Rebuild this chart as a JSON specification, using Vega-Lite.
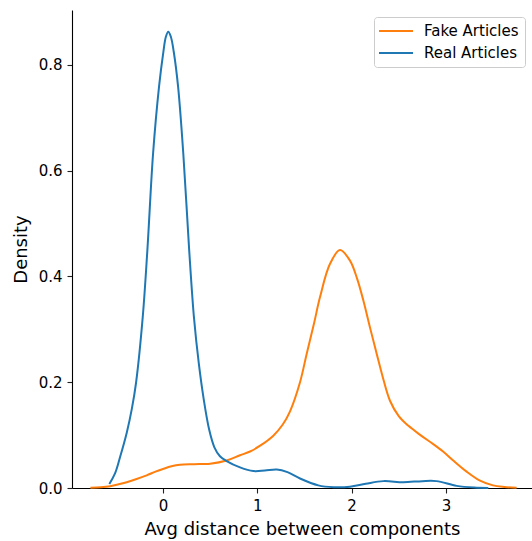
{
  "$schema": "https://vega.github.io/schema/vega-lite/v6.json",
  "width": 460,
  "height": 478,
  "autosize": "none",
  "padding": {"left": 72, "top": 10, "right": 0, "bottom": 53},
  "background": "white",
  "config": {
    "font": "DejaVu Sans",
    "view": {"stroke": null},
    "axis": {
      "grid": false,
      "domainColor": "black",
      "domainWidth": 1.1,
      "tickColor": "#222222",
      "tickWidth": 1.1,
      "tickSize": 5,
      "labelPadding": 5,
      "labelFontSize": 15,
      "labelColor": "black",
      "titleFontSize": 18,
      "titleFontWeight": "normal",
      "titleColor": "black"
    }
  },
  "data": {
    "values": [
      {"series": "Fake Articles", "x": -0.77, "y": 0.0005},
      {"series": "Fake Articles", "x": -0.66, "y": 0.0015},
      {"series": "Fake Articles", "x": -0.56, "y": 0.0035},
      {"series": "Fake Articles", "x": -0.47, "y": 0.007},
      {"series": "Fake Articles", "x": -0.385, "y": 0.011},
      {"series": "Fake Articles", "x": -0.28, "y": 0.017},
      {"series": "Fake Articles", "x": -0.173, "y": 0.024},
      {"series": "Fake Articles", "x": -0.08, "y": 0.031},
      {"series": "Fake Articles", "x": 0.0, "y": 0.036},
      {"series": "Fake Articles", "x": 0.09, "y": 0.041},
      {"series": "Fake Articles", "x": 0.18, "y": 0.044},
      {"series": "Fake Articles", "x": 0.33, "y": 0.045},
      {"series": "Fake Articles", "x": 0.5, "y": 0.046},
      {"series": "Fake Articles", "x": 0.675, "y": 0.052},
      {"series": "Fake Articles", "x": 0.817, "y": 0.062},
      {"series": "Fake Articles", "x": 0.923, "y": 0.069},
      {"series": "Fake Articles", "x": 1.03, "y": 0.08},
      {"series": "Fake Articles", "x": 1.17, "y": 0.099},
      {"series": "Fake Articles", "x": 1.27, "y": 0.12},
      {"series": "Fake Articles", "x": 1.347, "y": 0.145},
      {"series": "Fake Articles", "x": 1.453, "y": 0.2},
      {"series": "Fake Articles", "x": 1.524, "y": 0.254},
      {"series": "Fake Articles", "x": 1.6, "y": 0.31},
      {"series": "Fake Articles", "x": 1.665, "y": 0.361},
      {"series": "Fake Articles", "x": 1.771, "y": 0.424},
      {"series": "Fake Articles", "x": 1.877, "y": 0.45},
      {"series": "Fake Articles", "x": 1.983, "y": 0.43},
      {"series": "Fake Articles", "x": 2.06, "y": 0.395},
      {"series": "Fake Articles", "x": 2.124, "y": 0.355},
      {"series": "Fake Articles", "x": 2.2, "y": 0.3},
      {"series": "Fake Articles", "x": 2.266, "y": 0.254},
      {"series": "Fake Articles", "x": 2.33, "y": 0.21},
      {"series": "Fake Articles", "x": 2.407, "y": 0.165},
      {"series": "Fake Articles", "x": 2.5, "y": 0.136},
      {"series": "Fake Articles", "x": 2.6, "y": 0.118},
      {"series": "Fake Articles", "x": 2.73, "y": 0.1},
      {"series": "Fake Articles", "x": 2.866, "y": 0.083},
      {"series": "Fake Articles", "x": 2.97, "y": 0.069},
      {"series": "Fake Articles", "x": 3.078, "y": 0.052},
      {"series": "Fake Articles", "x": 3.22, "y": 0.031},
      {"series": "Fake Articles", "x": 3.362, "y": 0.014},
      {"series": "Fake Articles", "x": 3.5, "y": 0.005},
      {"series": "Fake Articles", "x": 3.62, "y": 0.002},
      {"series": "Fake Articles", "x": 3.75, "y": 0.0005},
      {"series": "Real Articles", "x": -0.569, "y": 0.0076},
      {"series": "Real Articles", "x": -0.51, "y": 0.027},
      {"series": "Real Articles", "x": -0.456, "y": 0.058},
      {"series": "Real Articles", "x": -0.385, "y": 0.104},
      {"series": "Real Articles", "x": -0.33, "y": 0.15},
      {"series": "Real Articles", "x": -0.285, "y": 0.2},
      {"series": "Real Articles", "x": -0.215, "y": 0.323},
      {"series": "Real Articles", "x": -0.166, "y": 0.449},
      {"series": "Real Articles", "x": -0.105, "y": 0.633},
      {"series": "Real Articles", "x": -0.042, "y": 0.759},
      {"series": "Real Articles", "x": 0.004, "y": 0.825},
      {"series": "Real Articles", "x": 0.03, "y": 0.853},
      {"series": "Real Articles", "x": 0.056, "y": 0.863},
      {"series": "Real Articles", "x": 0.084, "y": 0.853},
      {"series": "Real Articles", "x": 0.114, "y": 0.825},
      {"series": "Real Articles", "x": 0.16, "y": 0.759},
      {"series": "Real Articles", "x": 0.215, "y": 0.633},
      {"series": "Real Articles", "x": 0.278, "y": 0.449},
      {"series": "Real Articles", "x": 0.328, "y": 0.323},
      {"series": "Real Articles", "x": 0.38, "y": 0.235},
      {"series": "Real Articles", "x": 0.43, "y": 0.17},
      {"series": "Real Articles", "x": 0.49, "y": 0.11},
      {"series": "Real Articles", "x": 0.545, "y": 0.077},
      {"series": "Real Articles", "x": 0.604, "y": 0.06},
      {"series": "Real Articles", "x": 0.675, "y": 0.051},
      {"series": "Real Articles", "x": 0.817, "y": 0.039},
      {"series": "Real Articles", "x": 0.958, "y": 0.032},
      {"series": "Real Articles", "x": 1.08, "y": 0.033},
      {"series": "Real Articles", "x": 1.206, "y": 0.035},
      {"series": "Real Articles", "x": 1.32, "y": 0.03},
      {"series": "Real Articles", "x": 1.453, "y": 0.018},
      {"series": "Real Articles", "x": 1.647, "y": 0.005},
      {"series": "Real Articles", "x": 1.81, "y": 0.0015},
      {"series": "Real Articles", "x": 1.983, "y": 0.0025},
      {"series": "Real Articles", "x": 2.15, "y": 0.008},
      {"series": "Real Articles", "x": 2.336, "y": 0.013},
      {"series": "Real Articles", "x": 2.548, "y": 0.011},
      {"series": "Real Articles", "x": 2.75, "y": 0.013},
      {"series": "Real Articles", "x": 2.9, "y": 0.013},
      {"series": "Real Articles", "x": 3.114, "y": 0.004},
      {"series": "Real Articles", "x": 3.3, "y": 0.0008},
      {"series": "Real Articles", "x": 3.45, "y": 0.0002}
    ]
  },
  "mark": {"type": "line", "strokeWidth": 2, "interpolate": "catmull-rom"},
  "encoding": {
    "x": {
      "field": "x",
      "type": "quantitative",
      "title": "Avg distance between components",
      "scale": {"domain": [-0.965, 3.913], "nice": false, "zero": false},
      "axis": {"values": [0, 1, 2, 3], "format": "d", "titlePadding": 7}
    },
    "y": {
      "field": "y",
      "type": "quantitative",
      "title": "Density",
      "scale": {"domain": [0, 0.904], "nice": false},
      "axis": {"values": [0, 0.2, 0.4, 0.6, 0.8], "format": ".1f", "titlePadding": 8}
    },
    "color": {
      "field": "series",
      "type": "nominal",
      "scale": {"domain": ["Fake Articles", "Real Articles"], "range": ["#ff7f0e", "#1f77b4"]},
      "legend": {
        "title": null,
        "orient": "none",
        "legendX": 302,
        "legendY": 7,
        "symbolType": "M-2.5,0H2.5",
        "symbolSize": 185,
        "symbolStrokeWidth": 2,
        "symbolOffset": 8,
        "labelFontSize": 15,
        "labelColor": "black",
        "labelOffset": 20,
        "rowPadding": 6,
        "padding": 6,
        "strokeColor": "#cccccc",
        "fillColor": "white",
        "cornerRadius": 3
      }
    }
  }
}
